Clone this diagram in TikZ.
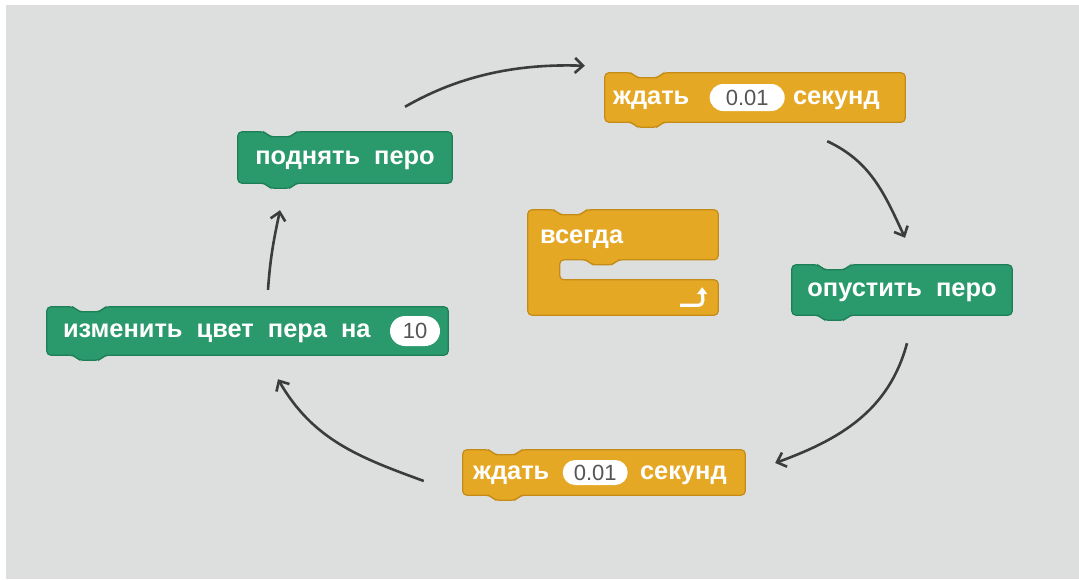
\documentclass[tikz,border=0pt]{standalone}
\usepackage{fontspec}
\setmainfont{Liberation Sans}
\usetikzlibrary{positioning,shapes.misc,arrows.meta}
\pgfdeclarelayer{background}
\pgfsetlayers{background,main}
\definecolor{bggray}{HTML}{DDDFDE}
\definecolor{pengreen}{HTML}{2A9A6D}
\definecolor{pendark}{HTML}{1E7F57}
\definecolor{ctrlgold}{HTML}{E5A824}
\definecolor{ctrldark}{HTML}{C48B17}
\definecolor{arrowgray}{HTML}{3C3C3C}
\definecolor{slotgray}{HTML}{555555}

% stack block outline: notch on top, tab below
\newcommand{\stackblock}[3]{%
  \draw[fill=#2, draw=#3, line width=1.2pt, rounded corners=4pt]
    (#1.north west) -- ++(27,0) -- ++(5,-5) -- ++(21,0) -- ++(5,5)
    -- (#1.north east) -- (#1.south east) -- ([xshift=58pt]#1.south west)
    -- ++(-5,-5) -- ++(-21,0) -- ++(-5,5) -- (#1.south west) -- cycle;}

\begin{document}
\begin{tikzpicture}[x=1pt, y=1pt,
  blk/.style={rectangle, inner sep=0pt, text=white, text height=13.2pt, text depth=0pt,
    font=\fontsize{25.4}{30}\selectfont\bfseries},
  lbl/.style={inner sep=0pt, text=white, text height=13.2pt, text depth=0pt, anchor=west,
    font=\fontsize{25.4}{30}\selectfont\bfseries},
  slot/.style={rounded rectangle, fill=white, text=slotgray, inner sep=0pt, text height=15.6pt, text depth=0pt,
    font=\fontsize{22}{26}\selectfont},
  flow/.style={draw=arrowgray, line width=2.6pt, -{Straight Barb[length=8pt, width=15pt]}}]

  \useasboundingbox (0,0) rectangle (1079,-579);

  \node[blk, minimum width=214, minimum height=51] (up) at (345,-157.5) {поднять\ \ перо};

  \node[blk, minimum width=300, minimum height=49] (wait1) at (755,-97.5) {};
  \node[lbl, right=8pt of wait1.west] (wait1a) {ждать};
  \node[slot, minimum width=75, minimum height=27, right=20pt of wait1a] (wait1v) {0.01};
  \node[lbl, right=8pt of wait1v] (wait1b) {секунд};

  \node[blk, minimum width=190, minimum height=105] (forever) at (623,-262.5) {};
  \node[lbl, right=12pt of forever.north west, yshift=-27.5pt] (forevera) {всегда};

  \node[blk, minimum width=220, minimum height=50] (down) at (902,-290) {опустить\ \ перо};

  \node[blk, minimum width=401, minimum height=48] (pencolor) at (247.5,-331) {};
  \node[lbl, right=16pt of pencolor.west] (pencolora) {изменить\ \ цвет\ \ пера\ \ на};
  \node[slot, minimum width=50, minimum height=30, left=8pt of pencolor.east] (pencolorv) {10};

  \node[blk, minimum width=282, minimum height=45] (wait2) at (604,-472.5) {};
  \node[lbl, right=10pt of wait2.west] (wait2a) {ждать};
  \node[slot, minimum width=65, minimum height=25, right=13pt of wait2a] (wait2v) {0.01};
  \node[lbl, right=12pt of wait2v] (wait2b) {секунд};

  \begin{pgfonlayer}{background}
    \fill[white] (0,0) rectangle (1079,-579);
    \fill[bggray] (6,-5) rectangle (1079,-579);
    \stackblock{up}{pengreen}{pendark}
    \stackblock{wait1}{ctrlgold}{ctrldark}
    \stackblock{down}{pengreen}{pendark}
    \stackblock{pencolor}{pengreen}{pendark}
    \stackblock{wait2}{ctrlgold}{ctrldark}
    % forever C block
    \draw[fill=ctrlgold, draw=ctrldark, line width=1.2pt, rounded corners=4pt]
      (forever.north west) -- ++(27,0) -- ++(5,-5) -- ++(21,0) -- ++(5,5)
      -- (forever.north east) -- ([yshift=-50pt]forever.north east)
      -- ([shift={(90,-50)}]forever.north west) -- ++(-5,-5) -- ++(-21,0) -- ++(-5,5)
      -- ([shift={(32,-50)}]forever.north west) -- ([shift={(32,-70)}]forever.north west)
      -- ([yshift=-70pt]forever.north east) -- (forever.south east)
      -- (forever.south west) -- cycle;
  \end{pgfonlayer}

  % loop arrow of the forever block
  \coordinate (loops) at ([shift={(-38,10)}]forever.south east);
  \coordinate (loope) at ([shift={(-16,28)}]forever.south east);
  \draw[white, line width=3.2pt, -{Triangle[length=7pt, width=10pt]}]
    (loops) -- ++(18,0) to[out=0, in=-90] (loope);

  \coordinate (a1s) at ([shift={(60,25)}]up.north);
  \coordinate (a1e) at ([shift={(-20,7)}]wait1.north west);
  \coordinate (a2s) at ([shift={(-78,-19)}]wait1.south east);
  \coordinate (a2e) at ([shift={(3,27)}]down.north);
  \coordinate (a3s) at ([shift={(5,-28)}]down.south);
  \coordinate (a3e) at ([shift={(30,9.5)}]wait2.east);
  \coordinate (a4s) at ([shift={(-39,-8.5)}]wait2.west);
  \coordinate (a4e) at ([shift={(30.5,-24)}]pencolor.south);
  \coordinate (a5s) at ([shift={(20.5,17)}]pencolor.north);
  \coordinate (a5e) at ([shift={(-65,-27)}]up.south);

  \path
    (a1s) edge[flow, out=30, in=178, looseness=0.9] (a1e)
    (a2s) edge[flow, out=-25, in=115] (a2e)
    (a3s) edge[flow, out=-105, in=20] (a3e)
    (a4s) edge[flow, out=160, in=-60] (a4e)
    (a5s) edge[flow, out=86, in=-102] (a5e)
  ;
\end{tikzpicture}
\end{document}
